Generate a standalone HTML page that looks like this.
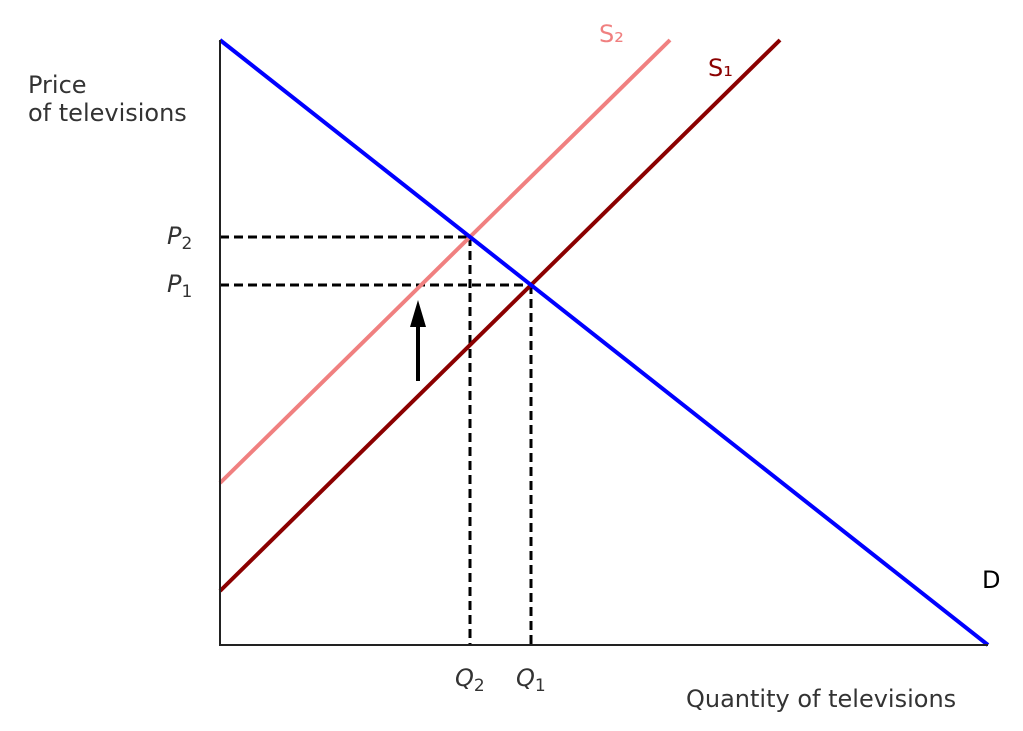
<!DOCTYPE html>
<html><head><meta charset="utf-8"><style>
html,body{margin:0;padding:0;background:#fff;}
svg{display:block;}
text{font-family:"DejaVu Sans","Liberation Sans",sans-serif;}
</style></head><body>
<svg width="1023" height="731" viewBox="0 0 1023 731" xmlns="http://www.w3.org/2000/svg">
<rect width="1023" height="731" fill="#fff"/>
<g stroke="#000" stroke-width="3" stroke-dasharray="9,5" fill="none">
<line x1="220" y1="237" x2="470" y2="237"/>
<line x1="470" y1="237" x2="470" y2="645"/>
<line x1="220" y1="285" x2="531" y2="285"/>
<line x1="531" y1="285" x2="531" y2="645"/>
</g>
<line x1="220" y1="483" x2="670" y2="40" stroke="#f08080" stroke-width="4"/>
<line x1="220" y1="591" x2="780" y2="40" stroke="#8b0000" stroke-width="4"/>
<line x1="220" y1="40" x2="988" y2="645" stroke="#0000ff" stroke-width="4"/>
<polyline points="220,40 220,645 988,645" fill="none" stroke="#222" stroke-width="2"/>
<line x1="418" y1="381" x2="418" y2="322" stroke="#000" stroke-width="4"/>
<polygon points="410,327 426,327 418,300" fill="#000"/>
<text x="599" y="42" font-size="24" fill="#f08080">S₂</text>
<text x="708" y="76" font-size="24" fill="#8b0000">S₁</text>
<text x="982" y="588" font-size="24" fill="#000">D</text>
<text x="28" y="93" font-size="24" fill="#333">Price</text>
<text x="28" y="121" font-size="24" fill="#333">of televisions</text>
<text x="686" y="707" font-size="24" fill="#333">Quantity of televisions</text>
<text x="167" y="244" font-size="24" fill="#333" font-style="italic">P<tspan font-size="17" dy="5" font-style="normal">2</tspan></text>
<text x="167" y="292" font-size="24" fill="#333" font-style="italic">P<tspan font-size="17" dy="5" font-style="normal">1</tspan></text>
<text x="455" y="686" font-size="24" fill="#333" font-style="italic">Q<tspan font-size="17" dy="5" font-style="normal">2</tspan></text>
<text x="516" y="686" font-size="24" fill="#333" font-style="italic">Q<tspan font-size="17" dy="5" font-style="normal">1</tspan></text>
</svg>
</body></html>
